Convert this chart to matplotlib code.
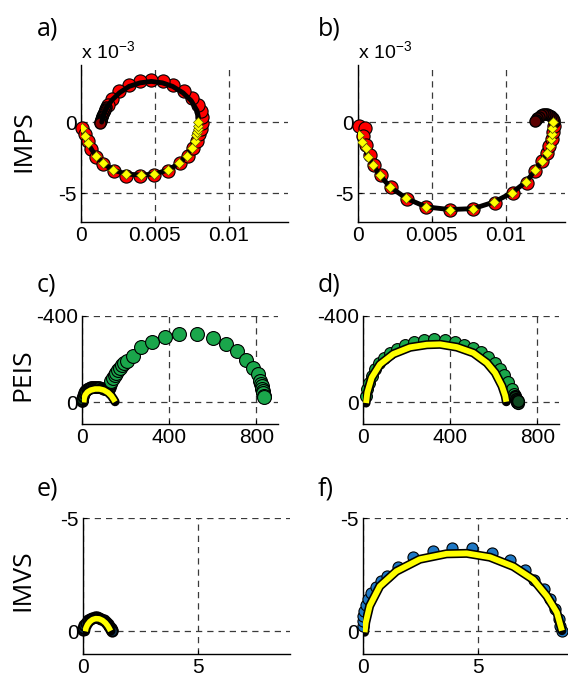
import numpy as np
import matplotlib
matplotlib.use("Agg")
import matplotlib.pyplot as plt

# ---- data ----
# IMPS, panel a (values in units of 1e-3)
imps_a_re = [0.05, 0.25, 0.45, 0.7, 1.0, 1.5, 2.2, 3.05, 4.0, 4.95, 5.9, 6.7, 7.25, 7.6, 7.85, 8.0, 8.1, 8.2,
             8.2, 8.1, 7.9, 7.5, 6.95, 6.25, 5.55, 4.75, 4.0, 3.25, 2.6, 2.1, 1.8]
imps_a_im = [-0.4, -0.85, -1.3, -1.9, -2.45, -2.95, -3.45, -3.75, -3.8, -3.7, -3.4, -2.9, -2.35, -1.8, -1.3, -0.85, -0.45, -0.05,
             0.35, 0.8, 1.2, 1.7, 2.2, 2.6, 2.85, 2.95, 2.85, 2.6, 2.15, 1.65, 1.2]
# dense high-frequency end of the loop (looks dark)
imps_a_end_re = [1.72, 1.65, 1.6, 1.55, 1.5, 1.45, 1.41, 1.38, 1.35, 1.33, 1.31, 1.3]
imps_a_end_im = [1.05, 0.95, 0.82, 0.7, 0.58, 0.45, 0.35, 0.25, 0.15, 0.07, 0.0, -0.05]
fit_a_re = [0.05, 0.25, 0.45, 0.99, 1.5, 2.18, 3.04, 4.05, 4.95, 5.9, 6.62, 7.14, 7.48, 7.7, 7.81, 7.85, 7.88, 7.91, 7.93]
fit_a_im = [-0.42, -0.95, -1.48, -2.37, -2.89, -3.36, -3.64, -3.71, -3.64, -3.36, -2.89, -2.37, -1.83, -1.35, -0.89, -0.7, -0.5, -0.3, 0.0]
fit_a_top_re = [7.95, 7.85, 7.45, 6.9, 6.2, 5.5, 4.75, 4.0, 3.25, 2.6, 2.1, 1.75, 1.55, 1.45, 1.4]
fit_a_top_im = [0.3, 0.8, 1.5, 2.05, 2.5, 2.75, 2.85, 2.75, 2.5, 2.05, 1.55, 1.05, 0.6, 0.2, 0.0]

# IMPS, panel b (units of 1e-3)
imps_b_re = [0.07, 0.45, 0.35, 0.55, 0.8, 1.1, 1.55, 2.2, 3.3, 4.6, 6.2, 7.8, 9.25, 10.45, 11.4, 12.0, 12.45, 12.75,
             12.95, 13.1, 13.2, 13.25]
imps_b_im = [-0.3, -0.42, -1.0, -1.6, -2.3, -3.0, -3.7, -4.55, -5.4, -5.95, -6.15, -6.1, -5.65, -5.0, -4.25, -3.45, -2.75, -2.2,
             -1.7, -1.2, -0.7, -0.25]
# dense high-frequency curl (looks dark)
imps_b_end_re = [13.28, 13.25, 13.18, 13.08, 12.95, 12.8, 12.65, 12.5, 12.35, 12.22, 12.12, 12.05, 12.0]
imps_b_end_im = [0.0, 0.15, 0.3, 0.42, 0.5, 0.55, 0.57, 0.55, 0.48, 0.38, 0.27, 0.15, 0.05]
fit_b_re = [0.07, 0.3, 0.52, 0.68, 1.02, 1.47, 2.15, 3.28, 4.59, 6.22, 7.81, 9.23, 10.41, 11.38, 11.99, 12.44, 12.78,
            12.96, 13.05, 13.1, 13.15, 13.19]
fit_b_im = [-0.89, -1.4, -1.83, -2.42, -3.0, -3.71, -4.53, -5.35, -5.94, -6.13, -6.06, -5.59, -4.95, -4.18, -3.36, -2.7, -2.18,
            -1.71, -1.2, -0.8, -0.4, -0.02]

# PEIS, panel c: small (dense) arc, then large arc
peis_c_small_re = [0, 2, 5, 10, 16, 23, 31, 40, 50, 60, 70, 80, 90, 100, 110, 118, 125, 130, 133]
peis_c_small_im = [-5, -18, -30, -42, -52, -60, -66, -70, -72, -73, -72, -70, -67, -63, -60, -60, -64, -72, -85]
peis_c_re = [134, 142, 150, 157, 165, 174, 183, 195, 208, 234, 272, 322, 382, 447, 527, 600, 661, 711, 753, 786,
             806, 818, 823, 826, 828, 829, 831, 834, 836]
peis_c_im = [-99, -112, -125, -138, -150, -161, -171, -182, -192, -217, -255, -278, -301, -318, -316, -298, -270, -237,
             -198, -160, -130, -99, -85, -76, -64, -53, -42, -31, -25]
fit_c_re = [8, 10, 15, 25, 40, 60, 80, 100, 120, 135, 145, 152]
fit_c_im = [0, -20, -35, -48, -57, -62, -62, -57, -45, -30, -15, -3]

# PEIS, panel d
peis_d_re = [14, 20, 29, 40, 55, 75, 97, 124, 155, 193, 234, 280, 326, 377, 423, 466, 507, 543, 576, 604, 627,
             648, 668, 684, 694]
peis_d_im = [-31, -61, -92, -122, -153, -183, -206, -229, -247, -267, -279, -287, -293, -290, -281, -267, -250, -232, -211,
             -183, -156, -125, -95, -64, -38]
peis_d_end_re = [698, 700, 702, 705, 707, 708, 710, 712]
peis_d_end_im = [-30, -25, -18, -10, -3, 0, 3, -6]
fit_d_re = [14, 20, 40, 78, 139, 216, 293, 354, 431, 507, 569, 607, 638, 653, 658]
fit_d_im = [3, -46, -115, -176, -224, -255, -267, -269, -256, -229, -183, -137, -76, -31, -3]

# IMVS, panel e
imvs_e_re = [0.0, 0.02, 0.06, 0.12, 0.2, 0.3, 0.4, 0.5, 0.6, 0.7, 0.8, 0.9, 1.0, 1.08, 1.15, 1.2, 1.25, 1.28]
imvs_e_im = [-0.05, -0.15, -0.27, -0.38, -0.48, -0.56, -0.6, -0.62, -0.62, -0.6, -0.56, -0.5, -0.42, -0.34, -0.25, -0.16,
             -0.08, -0.02]
fit_e_re = [0.1, 0.13, 0.2, 0.3, 0.42, 0.55, 0.7, 0.85, 0.98, 1.08, 1.15, 1.2]
fit_e_im = [0, -0.15, -0.3, -0.43, -0.52, -0.56, -0.55, -0.48, -0.37, -0.24, -0.12, -0.02]

# IMVS, panel f
imvs_f_re = [0.0, 0.0, 0.02, 0.03, 0.12, 0.22, 0.36, 0.58, 0.8, 1.05, 1.53, 2.18, 3.05, 3.88, 4.75, 5.6, 6.4, 7.05,
             7.44, 7.85, 8.14, 8.36, 8.5, 8.58, 8.65]
imvs_f_im = [-0.25, -0.45, -0.68, -0.9, -1.15, -1.41, -1.67, -1.96, -2.21, -2.46, -2.83, -3.27, -3.55, -3.69, -3.66,
             -3.44, -3.13, -2.69, -2.28, -1.85, -1.41, -0.97, -0.54, -0.25, -0.03]
fit_f_re = [0.07, 0.12, 0.29, 0.73, 1.45, 2.47, 3.63, 4.51, 5.52, 6.54, 7.41, 7.99, 8.43, 8.65]
fit_f_im = [0.04, -0.39, -1.12, -1.99, -2.65, -3.18, -3.42, -3.44, -3.27, -2.86, -2.28, -1.56, -0.83, -0.03]

panel_letters = ['a)', 'b)', 'c)', 'd)', 'e)', 'f)']
row_labels = ['IMPS', 'PEIS', 'IMVS']

red = '#ff0000'
green = '#1aa64b'
blue = '#1f78c4'
yellow = '#ffff00'

plt.rcParams['font.family'] = ['Liberation Sans', 'DejaVu Sans']
plt.rcParams['mathtext.fontset'] = 'custom'
plt.rcParams['mathtext.rm'] = 'Liberation Sans'

W, H = 568, 675
fig = plt.figure(figsize=(W / 100, H / 100), dpi=100)


def make_axes(left, right, top, bottom):
    return fig.add_axes([left / W, 1 - bottom / H, (right - left) / W, (bottom - top) / H])


def style(ax, xticks, xlabels, yticks, ylabels):
    for s in ['top', 'right']:
        ax.spines[s].set_visible(False)
    for s in ['left', 'bottom']:
        ax.spines[s].set_linewidth(1.0)
    ax.set_xticks(xticks)
    ax.set_xticklabels(xlabels)
    ax.set_yticks(yticks)
    ax.set_yticklabels(ylabels)
    ax.tick_params(direction='in', length=3, labelsize=15, pad=3)
    ax.grid(True, color='#3a3a3a', linestyle=(0, (5, 4)), linewidth=0.9)
    ax.set_axisbelow(True)


s = 1e-3
axa = make_axes(81, 288, 65, 222)
axb = make_axes(358, 565, 65, 222)
axc = make_axes(82, 278, 316, 424)
axd = make_axes(363, 559, 316, 424)
axe = make_axes(83, 290, 518, 654)
axf = make_axes(363, 570, 518, 654)

# IMPS
for ax in (axa, axb):
    ax.set_xlim(0, 0.014)
    ax.set_ylim(-7e-3, 4e-3)
    style(ax, [0, 0.005, 0.01], ['0', '0.005', '0.01'], [-5e-3, 0], ['-5', '0'])
    ax.text(0, 1.01, r'x 10$^{-3}$', transform=ax.transAxes, fontsize=14, ha='left', va='bottom')

axa.plot(np.array(imps_a_re) * s, np.array(imps_a_im) * s, 'o', ms=9.5, mfc=red, mec='k', mew=0.8, clip_on=False, zorder=3)
axa.plot(np.array(imps_a_end_re) * s, np.array(imps_a_end_im) * s, 'o', ms=8, mfc='#8a0000', mec='k', mew=1.0,
         clip_on=False, zorder=3)
axa.plot(np.array(fit_a_re + fit_a_top_re) * s, np.array(fit_a_im + fit_a_top_im) * s, '-', color='k', lw=3.5,
         solid_capstyle='round', zorder=4)
axa.plot(np.array(fit_a_re) * s, np.array(fit_a_im) * s, 'D', ms=5, mfc=yellow, mec='#555500', mew=0.5, zorder=5)

axb.plot(np.array(imps_b_re) * s, np.array(imps_b_im) * s, 'o', ms=9.5, mfc=red, mec='k', mew=0.8, clip_on=False, zorder=3)
axb.plot(np.array(imps_b_end_re) * s, np.array(imps_b_end_im) * s, 'o', ms=8, mfc='#5a0000', mec='k', mew=1.0,
         clip_on=False, zorder=3)
axb.plot(np.array(fit_b_re) * s, np.array(fit_b_im) * s, '-', color='k', lw=3.5, solid_capstyle='round', zorder=4)
axb.plot(np.array(fit_b_re) * s, np.array(fit_b_im) * s, 'D', ms=5, mfc=yellow, mec='#555500', mew=0.5, zorder=5)

# PEIS
for ax in (axc, axd):
    ax.set_xlim(0, 900)
    ax.set_ylim(100, -400)
    style(ax, [0, 400, 800], ['0', '400', '800'], [-400, 0], ['-400', '0'])

axc.plot(peis_c_small_re, peis_c_small_im, 'o', ms=8, mfc='#0d3d1c', mec='k', mew=1.2, clip_on=False, zorder=3)
axc.plot(peis_c_re, peis_c_im, 'o', ms=10, mfc=green, mec='k', mew=0.8, clip_on=False, zorder=3)
axc.plot(fit_c_re, fit_c_im, '-', color='k', lw=6.5, solid_capstyle='round', zorder=4)
axc.plot(fit_c_re, fit_c_im, '-', color=yellow, lw=4, solid_capstyle='butt', zorder=5)

axd.plot(peis_d_re, peis_d_im, 'o', ms=8.5, mfc=green, mec='k', mew=0.8, clip_on=False, zorder=3)
axd.plot(peis_d_end_re, peis_d_end_im, 'o', ms=8.5, mfc='#0f4a22', mec='k', mew=1.0, clip_on=False, zorder=3)
axd.plot(fit_d_re, fit_d_im, '-', color='k', lw=6.5, solid_capstyle='round', zorder=4)
axd.plot(fit_d_re, fit_d_im, '-', color=yellow, lw=4.2, solid_capstyle='butt', zorder=5)

# IMVS
for ax in (axe, axf):
    ax.set_xlim(0, 9)
    ax.set_ylim(1, -5)
    style(ax, [0, 5], ['0', '5'], [-5, 0], ['-5', '0'])

axe.plot(imvs_e_re, imvs_e_im, 'o', ms=7.5, mfc='#10304a', mec='k', mew=1.3, clip_on=False, zorder=3)
axe.plot(fit_e_re, fit_e_im, '-', color='k', lw=7, solid_capstyle='round', zorder=4)
axe.plot(fit_e_re, fit_e_im, '-', color=yellow, lw=4, solid_capstyle='butt', zorder=5)

axf.plot(imvs_f_re, imvs_f_im, 'o', ms=8, mfc=blue, mec='k', mew=0.8, clip_on=False, zorder=3)
axf.plot(fit_f_re, fit_f_im, '-', color='k', lw=6.5, solid_capstyle='round', zorder=4)
axf.plot(fit_f_re, fit_f_im, '-', color=yellow, lw=4.2, solid_capstyle='butt', zorder=5)

# panel letters and row labels
letter_pos = [(37, 35), (318, 35), (37, 291), (318, 291), (37, 495), (318, 495)]
for lab, (px, py) in zip(panel_letters, letter_pos):
    fig.text(px / W, 1 - py / H, lab, fontsize=18, family='Open Sans', ha='left', va='baseline')

row_pos = [(24, 141), (23, 375), (23, 580)]
for lab, (px, py) in zip(row_labels, row_pos):
    fig.text(px / W, 1 - py / H, lab, fontsize=19, family='Open Sans', rotation=90, ha='center', va='center')

fig.savefig('out.png', dpi=100)
